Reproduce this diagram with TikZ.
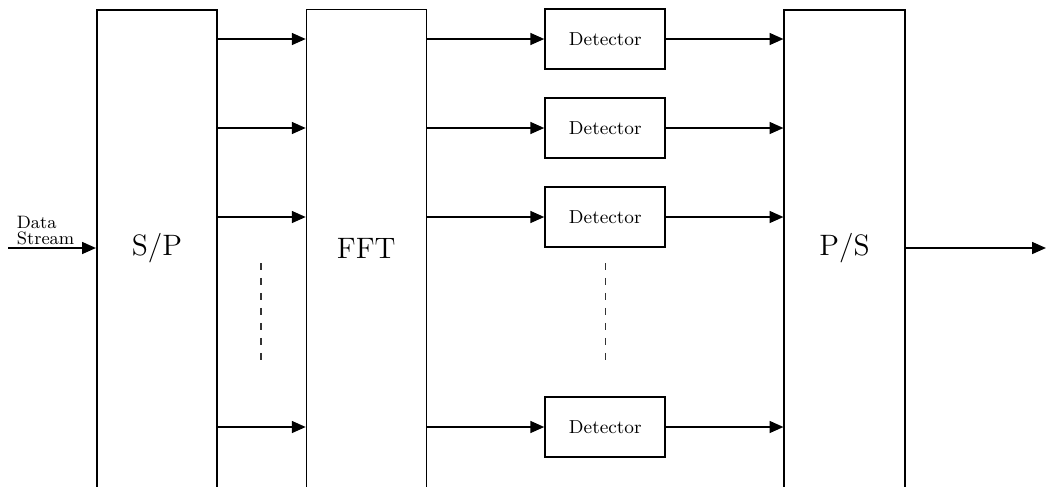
\documentclass[tikz,border=0pt]{standalone}
\usetikzlibrary{arrows.meta}
\begin{document}
\begin{tikzpicture}[x=0.016667cm, y=-0.016667cm,
  blk/.style={draw, line width=0.95pt, minimum width=2cm, minimum height=9cm,
    inner sep=0pt, anchor=north},
  fftblk/.style={blk, line width=0.5pt},
  blktext/.style={inner sep=0pt, font=\fontsize{14}{16}\selectfont},
  det/.style={draw, line width=0.95pt, minimum width=2cm, minimum height=1cm,
    inner sep=0pt, font=\fontsize{8.9}{10}\selectfont},
  arr/.style={line width=0.95pt, -{Triangle[length=6.6pt,width=5.6pt]}},
  vdots/.style={line width=0.5pt, black!80, dash pattern=on 3.2pt off 3.9pt}]
\clip (0,0) rectangle (1046,486);

% tall processing blocks (their lower edges run off the page)
\node[blk] (sp) at (157,9.3) {};
\node[fftblk] (fft) at (366.3,9.3) {};
\node[blk] (ps) at (844.5,9.3) {};
\node[blktext] (sptxt) at (157,248) {S/P};
\node[blktext] (ffttxt) at (366.3,248) {FFT};
\node[blktext] (pstxt) at (844.5,248) {P/S};

% detector bank
\node[det] (d1) at (605.3,39) {Detector};
\node[det] (d2) at (605.3,128) {Detector};
\node[det] (d3) at (605.3,217) {Detector};
\node[det] (d4) at (605.3,427) {Detector};

% parallel branches
\foreach \d in {d1,d2,d3,d4} {
  \draw[arr] (sp.east |- \d) -- (fft.west |- \d);
  \draw[arr] (fft.east |- \d) -- (\d.west);
  \draw[arr] (\d.east) -- (ps.west |- \d);
}

% input and output
\coordinate (in) at (8,248);
\coordinate (out) at (1046,248);
\draw[arr] (in) -- (sp.west |- in);
\draw[arr] (ps.east |- out) -- (out);
\node[anchor=south west, align=left, inner sep=0pt,
  font=\fontsize{8.5}{7.6}\selectfont] (lbl) at (16.5,245.5) {Data\\Stream};

% elided branches
\coordinate (va1) at (261,263);
\coordinate (vb1) at (261,360);
\coordinate (va2) at (605.3,263);
\coordinate (vb2) at (605.3,360);
\draw[vdots] (va1) -- (vb1);
\draw[vdots] (va2) -- (vb2);
\end{tikzpicture}
\end{document}
